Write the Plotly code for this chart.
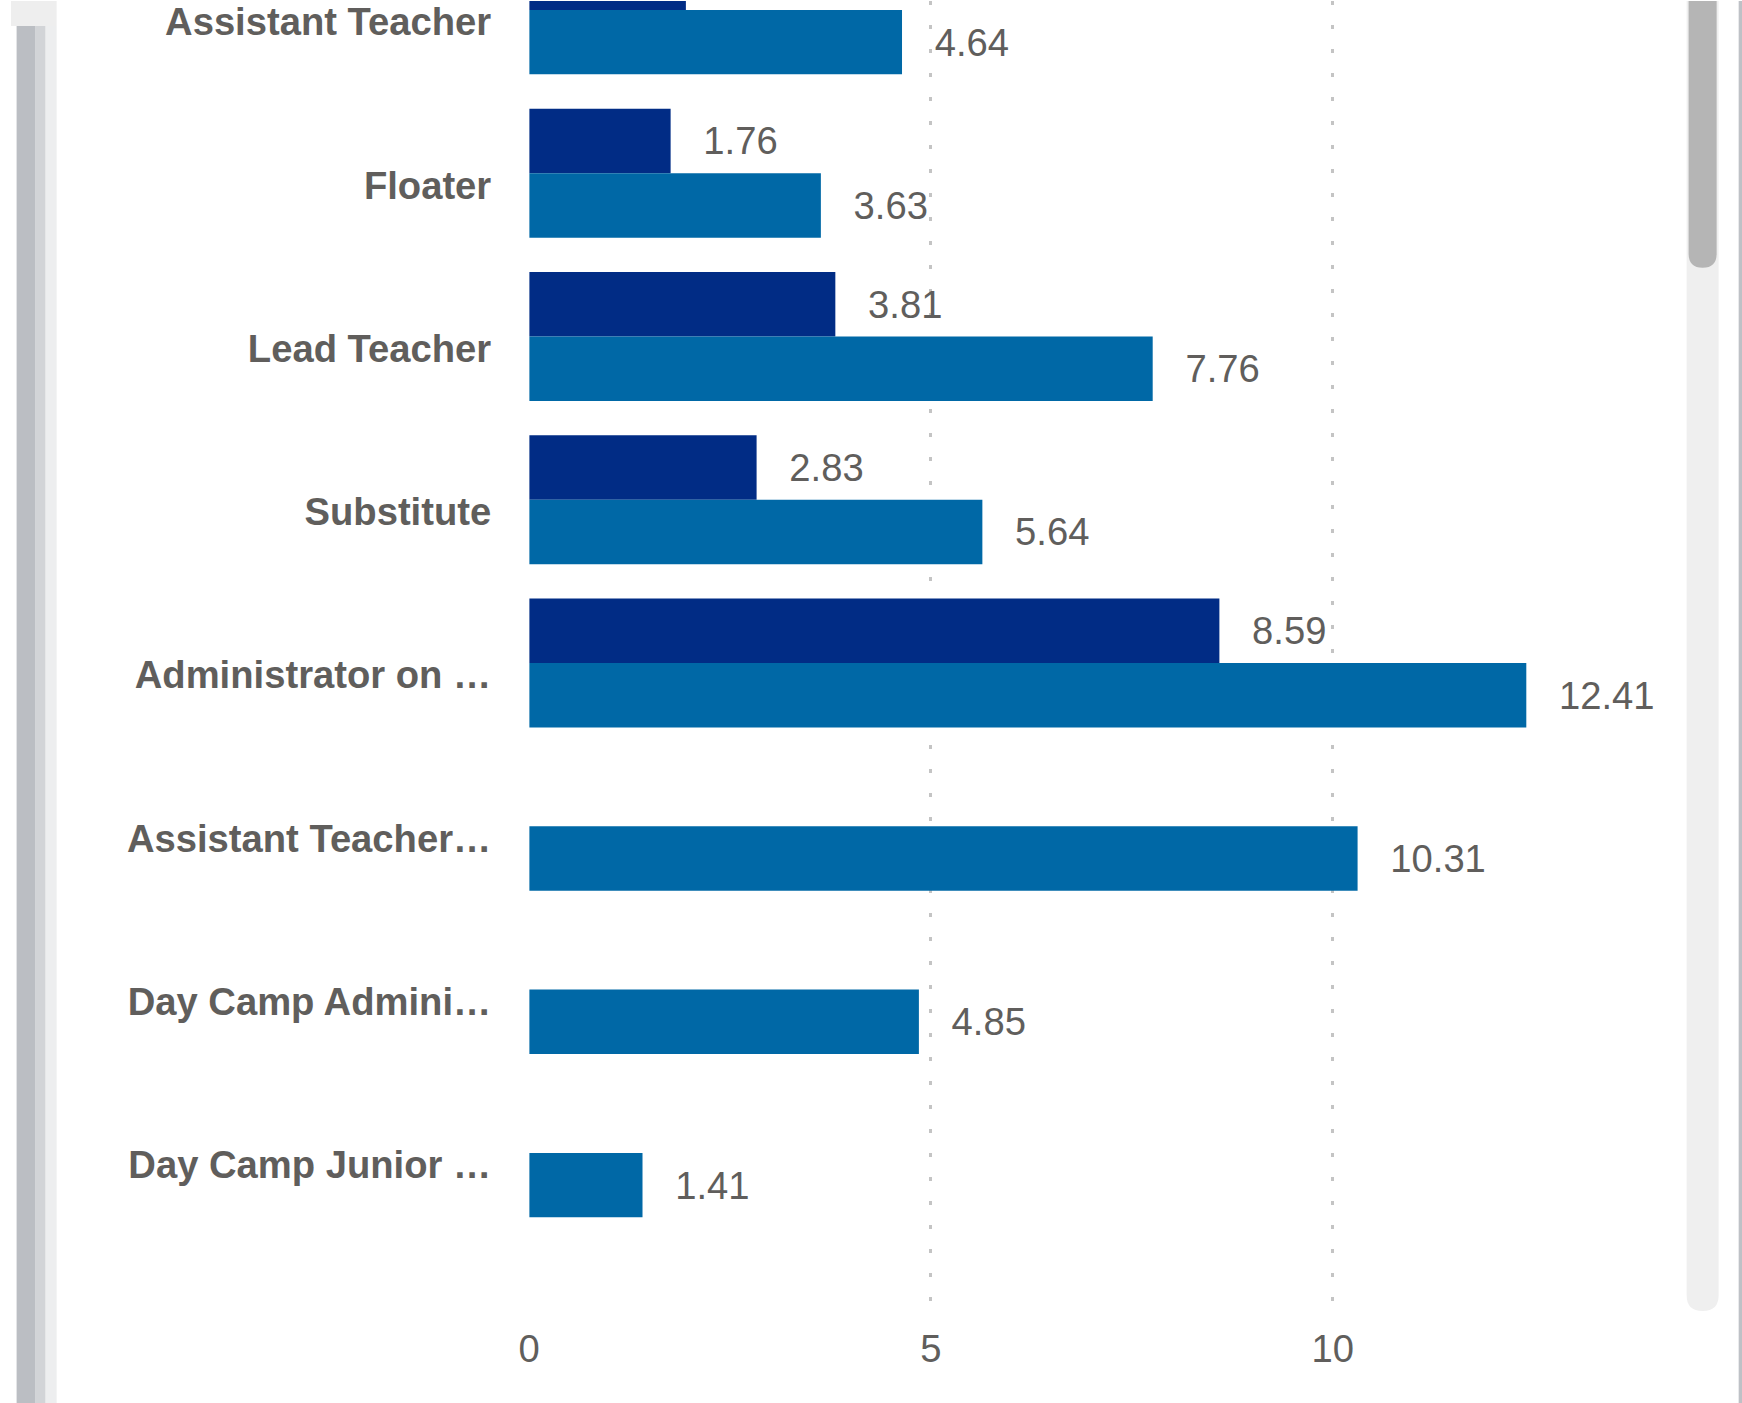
import plotly.graph_objects as go

# ---------------- data ----------------
categories = [
    "Assistant Teacher",
    "Floater",
    "Lead Teacher",
    "Substitute",
    "Administrator on …",
    "Assistant Teacher…",
    "Day Camp Admini…",
    "Day Camp Junior …",
]
series_dark = [1.95, 1.76, 3.81, 2.83, 8.59, None, None, None]
series_light = [4.64, 3.63, 7.76, 5.64, 12.41, 10.31, 4.85, 1.41]
# value labels shown in the visible part of the visual (first dark label is scrolled out of view)
show_dark_label = [False, True, True, True, True, False, False, False]
show_light_label = [True] * len(series_light)
x_tick_values = [0, 5, 10]
x_tick_labels = ["0", "5", "10"]

# ---------------- styling ----------------
W, H = 1742, 1403
FONT = "Liberation Sans, Arial, Helvetica, sans-serif"
TXT = "#605E5C"
DARK = "#012C85"
LIGHT = "#0068A6"

# horizontal correction for how the page is photographed
OFFX, SCX = 11.4, 0.9925


def PX(r):
    return min(W, max(0.0, (r - OFFX) / SCX))


def PY(r):
    return min(H, max(0.0, r))


def fx(p):
    return p / W


def fy(p):
    return 1 - p / H


FS = 38.2
LABEL_TMPL = "\u2002\u00a0%{x:.2f}"

fig = go.Figure()
for vals, show, color in [(series_dark, show_dark_label, DARK),
                          (series_light, show_light_label, LIGHT)]:
    tmpl = [LABEL_TMPL if (s and v is not None) else "" for v, s in zip(vals, show)]
    fig.add_trace(
        go.Bar(
            y=categories,
            x=vals,
            orientation="h",
            marker=dict(color=color, line=dict(width=0)),
            texttemplate=tmpl,
            textposition="outside",
            textfont=dict(family=FONT, size=FS, color=TXT),
            cliponaxis=True,
            constraintext="none",
            hoverinfo="skip",
            showlegend=False,
        )
    )

# horizontal geometry (page px)
plot_left = PX(529)
px_per_unit = 80.25 / SCX
x_max = 14
plot_right = plot_left + x_max * px_per_unit

# vertical geometry (page px)
plot_bottom = 1311
c0 = 8.9           # centre of first category
spacing = 163.4    # category pitch
label_drop = 12    # keep the first label inside the page
y_top = -c0 / spacing
y_bottom = (plot_bottom - c0) / spacing
bar_px = 64.5
bargap = 1 - 2 * bar_px / spacing


def rounded_bottom(x0, x1, y0, y1):
    r = (x1 - x0) / 2
    return (
        f"M {fx(x0)},{fy(y0)} L {fx(x1)},{fy(y0)} L {fx(x1)},{fy(y1 - r)} "
        f"Q {fx(x1)},{fy(y1)} {fx((x0 + x1) / 2)},{fy(y1)} "
        f"Q {fx(x0)},{fy(y1)} {fx(x0)},{fy(y1 - r)} Z"
    )


def rect(x0, x1, y0, y1, color):
    return dict(type="rect", xref="paper", yref="paper",
                x0=fx(PX(x0)), x1=fx(PX(x1)), y0=fy(PY(y1)), y1=fy(PY(y0)),
                fillcolor=color, line=dict(width=0), layer="above")


shapes = [
    # left page edge / shadow
    rect(0, 57, 0, 25, "#EEEEEE"),
    rect(17, 36, 25, H, "#BBBEC3"),
    rect(36, 46, 25, H, "#D2D4D7"),
    rect(46, 57, 25, H, "#EDEEEF"),
    # scrollbar track and thumb
    dict(type="path", xref="paper", yref="paper",
         path=rounded_bottom(PX(1685), PX(1717), 0, PY(1311)),
         fillcolor="#EFEFEF", line=dict(width=0), layer="above"),
    dict(type="path", xref="paper", yref="paper",
         path=rounded_bottom(PX(1687), PX(1715), 0, PY(267)),
         fillcolor="#B5B5B5", line=dict(width=0), layer="above"),
    # right edge line
    dict(type="rect", xref="paper", yref="paper", x0=fx(PX(1737)), x1=1, y0=0, y1=1,
         fillcolor="#BEC1C6", line=dict(width=0), layer="above"),
]

fig.update_layout(
    width=W,
    height=H,
    autosize=False,
    margin=dict(l=0, r=0, t=0, b=0, pad=0),
    paper_bgcolor="white",
    plot_bgcolor="white",
    barmode="group",
    bargap=bargap,
    bargroupgap=0,
    showlegend=False,
    shapes=shapes,
    xaxis=dict(
        domain=[fx(plot_left), fx(plot_right)],
        range=[0, x_max],
        tickmode="array",
        tickvals=x_tick_values,
        ticktext=x_tick_labels,
        showgrid=True,
        gridcolor="#C4C4C4",
        gridwidth=3,
        griddash="4px,20px",
        zeroline=False,
        showline=False,
        ticks="",
        ticklabelstandoff=12,
        tickfont=dict(family=FONT, size=FS, color=TXT),
        fixedrange=True,
    ),
    yaxis=dict(
        domain=[fy(plot_bottom), 1],
        type="category",
        categoryorder="array",
        categoryarray=categories,
        range=[y_bottom, y_top],
        showgrid=False,
        zeroline=False,
        showline=False,
        ticks="",
        ticklabelstandoff=37,
        ticklabelshift=-label_drop,
        tickfont=dict(family=FONT, size=FS, color=TXT, weight="bold"),
        fixedrange=True,
    ),
)

page_fix = (
    "document.documentElement.style.margin='0px';"
    "document.body.style.margin='0px';"
    "document.body.style.padding='0px';"
    "document.body.style.overflow='hidden';"
)

fig.write_html("out.html", config={"displayModeBar": False}, post_script=page_fix)
